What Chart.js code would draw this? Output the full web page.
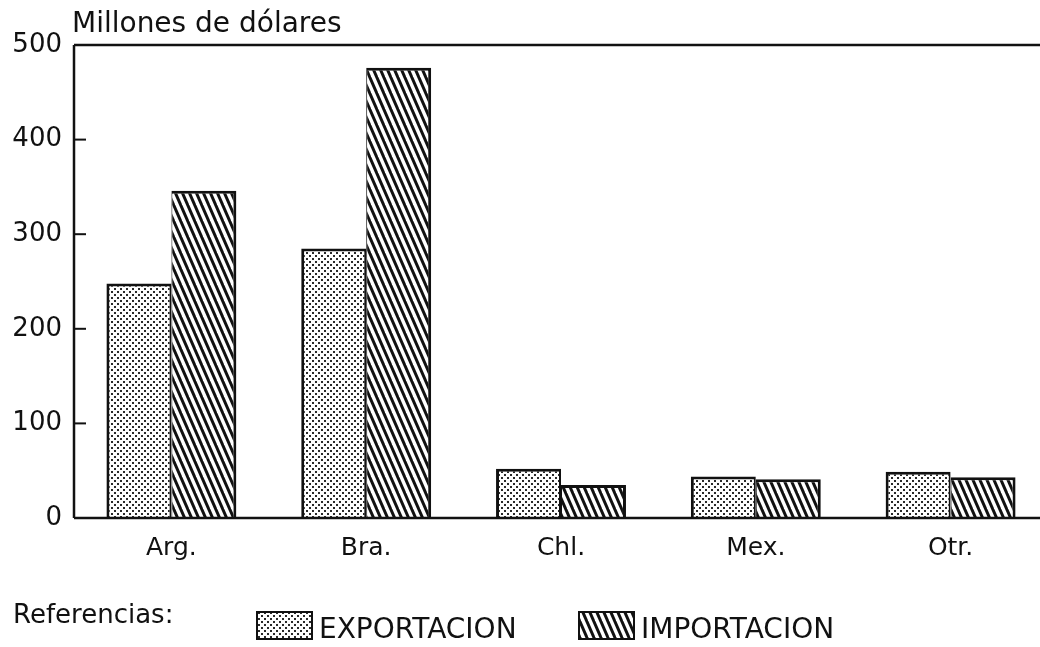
<!DOCTYPE html>
<html>
<head>
<meta charset="utf-8">
<script src="https://cdn.jsdelivr.net/npm/chart.js@4/dist/chart.umd.min.js"></script>
<style>
html, body { margin: 0; padding: 0; background: #fff; overflow: hidden; }
#wrap { width: 1040px; height: 647px; overflow: hidden; }
</style>
</head>
<body>
<div id="wrap"><canvas id="chart" width="1050" height="647"></canvas></div>
<script>
const countries = ["Arg.", "Bra.", "Chl.", "Mex.", "Otr."];
const exportaciones = [248, 285, 52, 44, 49];
const importaciones = [346, 476, 35, 41, 43];
const yTicks = [0, 100, 200, 300, 400, 500];
const yTitle = "Millones de dólares";
const legendTitle = "Referencias:";
const seriesNames = ["EXPORTACION", "IMPORTACION"];

const ink = "#111";
const canvas = document.getElementById("chart");
const ctx = canvas.getContext("2d");

// stippled fill for exports
function dotPattern() {
    const c = document.createElement("canvas");
    c.width = 6; c.height = 6;
    const g = c.getContext("2d");
    g.fillStyle = "#fff";
    g.fillRect(0, 0, 6, 6);
    g.fillStyle = "#2a2a2a";
    g.fillRect(0, 0, 2, 2);
    g.fillRect(3, 3, 2, 2);
    return ctx.createPattern(c, "repeat");
}

// steep "\" hatching for imports
function hatchPattern() {
    const w = 7, h = 16;
    const c = document.createElement("canvas");
    c.width = w; c.height = h;
    const g = c.getContext("2d");
    g.fillStyle = "#fff";
    g.fillRect(0, 0, w, h);
    g.strokeStyle = ink;
    g.lineWidth = 3;
    for (let k = -1; k <= 1; k++) {
        g.beginPath();
        g.moveTo(k * w - w / 4, -h / 4);
        g.lineTo(k * w + w + w / 4, h + h / 4);
        g.stroke();
    }
    return ctx.createPattern(c, "repeat");
}

const fills = [dotPattern(), hatchPattern()];

const frame = {
    id: "frame",
    afterDatasetsDraw(chart) {
        const a = chart.chartArea;
        const y = chart.scales.y;
        const c = chart.ctx;
        c.save();
        c.strokeStyle = ink;
        c.lineWidth = 2.5;
        c.beginPath();
        c.moveTo(a.left, a.top); c.lineTo(chart.width, a.top);
        c.moveTo(a.left, a.top); c.lineTo(a.left, a.bottom);
        c.moveTo(a.left, a.bottom); c.lineTo(chart.width, a.bottom);
        c.stroke();

        c.lineWidth = 2;
        yTicks.forEach(v => {
            const py = y.getPixelForValue(v);
            c.beginPath();
            c.moveTo(a.left, py);
            c.lineTo(a.left + 12, py);
            c.stroke();
        });

        c.fillStyle = ink;
        c.textBaseline = "alphabetic";
        c.font = "28px 'DejaVu Sans'";
        c.fillText(yTitle, 72, 32);

        // legend row
        c.font = "26px 'DejaVu Sans'";
        c.fillText(legendTitle, 13, 623);
        const boxes = [257, 579];
        chart.data.datasets.forEach((ds, i) => {
            const bx = boxes[i];
            c.fillStyle = fills[i];
            c.fillRect(bx, 612, 55, 27);
            c.lineWidth = 2;
            c.strokeRect(bx, 612, 55, 27);
            c.fillStyle = ink;
            c.font = "28px 'DejaVu Sans'";
            c.fillText(ds.label, bx + 62, 638);
        });
        c.restore();
    }
};

new Chart(ctx, {
    type: "bar",
    data: {
        labels: countries,
        datasets: [{
            label: seriesNames[0],
            data: exportaciones,
            backgroundColor: fills[0],
            borderColor: ink,
            borderWidth: {top: 3, left: 3, right: 2, bottom: 0},
            categoryPercentage: 0.667,
            barPercentage: 1.0
        }, {
            label: seriesNames[1],
            data: importaciones,
            backgroundColor: fills[1],
            borderColor: ink,
            borderWidth: {top: 3, left: 1, right: 3, bottom: 0},
            categoryPercentage: 0.667,
            barPercentage: 1.0
        }]
    },
    options: {
        responsive: false,
        animation: false,
        layout: {padding: {top: 45, right: 2, left: 0, bottom: 0}},
        plugins: {legend: {display: false}, tooltip: {enabled: false}},
        scales: {
            x: {
                grid: {display: false, drawTicks: false},
                border: {display: false},
                ticks: {font: {family: "DejaVu Sans", size: 25}, color: ink, padding: 15},
                afterFit: s => { s.height = 129; }
            },
            y: {
                min: 0,
                max: 500,
                afterBuildTicks: s => { s.ticks = yTicks.map(v => ({value: v})); },
                grid: {display: false, drawTicks: false},
                border: {display: false},
                ticks: {font: {family: "DejaVu Sans", size: 26}, color: ink, padding: 12},
                afterFit: s => { s.width = 74; }
            }
        }
    },
    plugins: [frame]
});
</script>
</body>
</html>
